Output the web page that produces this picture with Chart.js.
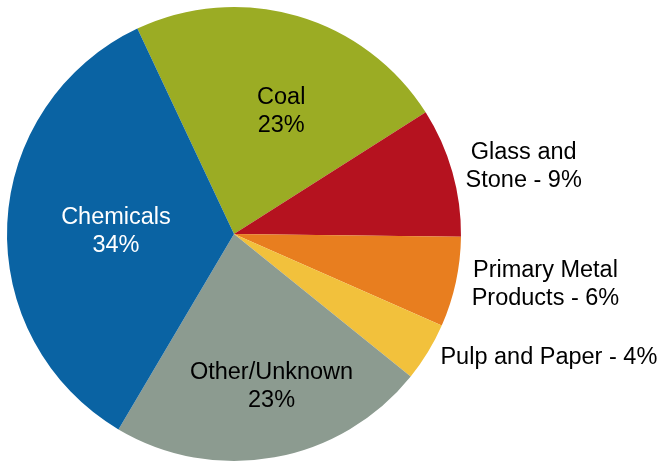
<!DOCTYPE html>
<html>
<head>
<meta charset="utf-8">
<script src="https://cdn.jsdelivr.net/npm/chart.js@4.4.0/dist/chart.umd.min.js"></script>
<style>
  html, body { margin: 0; padding: 0; background: #fff; }
  #wrap { width: 661px; height: 462px; }
</style>
</head>
<body>
<div id="wrap"><canvas id="chart-pie"></canvas></div>
<script>
// data, clockwise from the top (shares)
const categories = ["Coal", "Glass and Stone", "Primary Metal Products", "Pulp and Paper", "Other/Unknown", "Chemicals"];
const shares = [23, 9.2, 6.4, 4.2, 22.7, 34.5];
const labelLines = [
    ["Coal", "23%"],
    ["Glass and", "Stone - 9%"],
    ["Primary Metal", "Products - 6%"],
    ["Pulp and Paper - 4%"],
    ["Other/Unknown", "23%"],
    ["Chemicals", "34%"]
];

const sliceColors = ["#9BAC24", "#B5121F", "#E87E1F", "#F2C13C", "#8C9B90", "#0A63A3"];
const textColors = ["#000", "#000", "#000", "#000", "#000", "#fff"];
// label placement: radius factor and angle shift (deg) from slice middle
const labelRadius = [0.58, 1.31, 1.39, 1.49, 0.69, 0.52];
const labelShift = [4.8, 2.8, -3, -9.9, -3.6, -1.6];

const sliceLabels = {
    id: "sliceLabels",
    afterDatasetsDraw(chart) {
        const ctx = chart.ctx;
        const arcs = chart.getDatasetMeta(0).data;
        ctx.save();
        ctx.font = "23.5px 'Liberation Sans', Arial, sans-serif";
        ctx.textAlign = "center";
        ctx.textBaseline = "middle";
        arcs.forEach(function (arc, i) {
            const p = arc.getProps(["x", "y", "startAngle", "endAngle", "outerRadius"], true);
            const mid = (p.startAngle + p.endAngle) / 2 + labelShift[i] * Math.PI / 180;
            const r = p.outerRadius * labelRadius[i];
            const x = p.x + Math.cos(mid) * r;
            const y = p.y + Math.sin(mid) * r;
            const lines = labelLines[i];
            const lh = 28;
            ctx.fillStyle = textColors[i];
            lines.forEach(function (t, j) {
                ctx.fillText(t, x, y + (j - (lines.length - 1) / 2) * lh);
            });
        });
        ctx.restore();
    }
};

document.addEventListener("DOMContentLoaded", function () {
    const ctx = document.getElementById("chart-pie").getContext("2d");

    new Chart(ctx, {
        type: "pie",
        data: {
            labels: categories,
            datasets: [{
                data: shares,
                backgroundColor: sliceColors,
                borderWidth: 0
            }]
        },
        options: {
            responsive: true,
            maintainAspectRatio: false,
            animation: false,
            rotation: -25.2,
            layout: { padding: { left: 7, right: 200, top: 7, bottom: 1 } },
            plugins: {
                legend: { display: false },
                tooltip: { enabled: false }
            }
        },
        plugins: [sliceLabels]
    });
});
</script>
</body>
</html>
